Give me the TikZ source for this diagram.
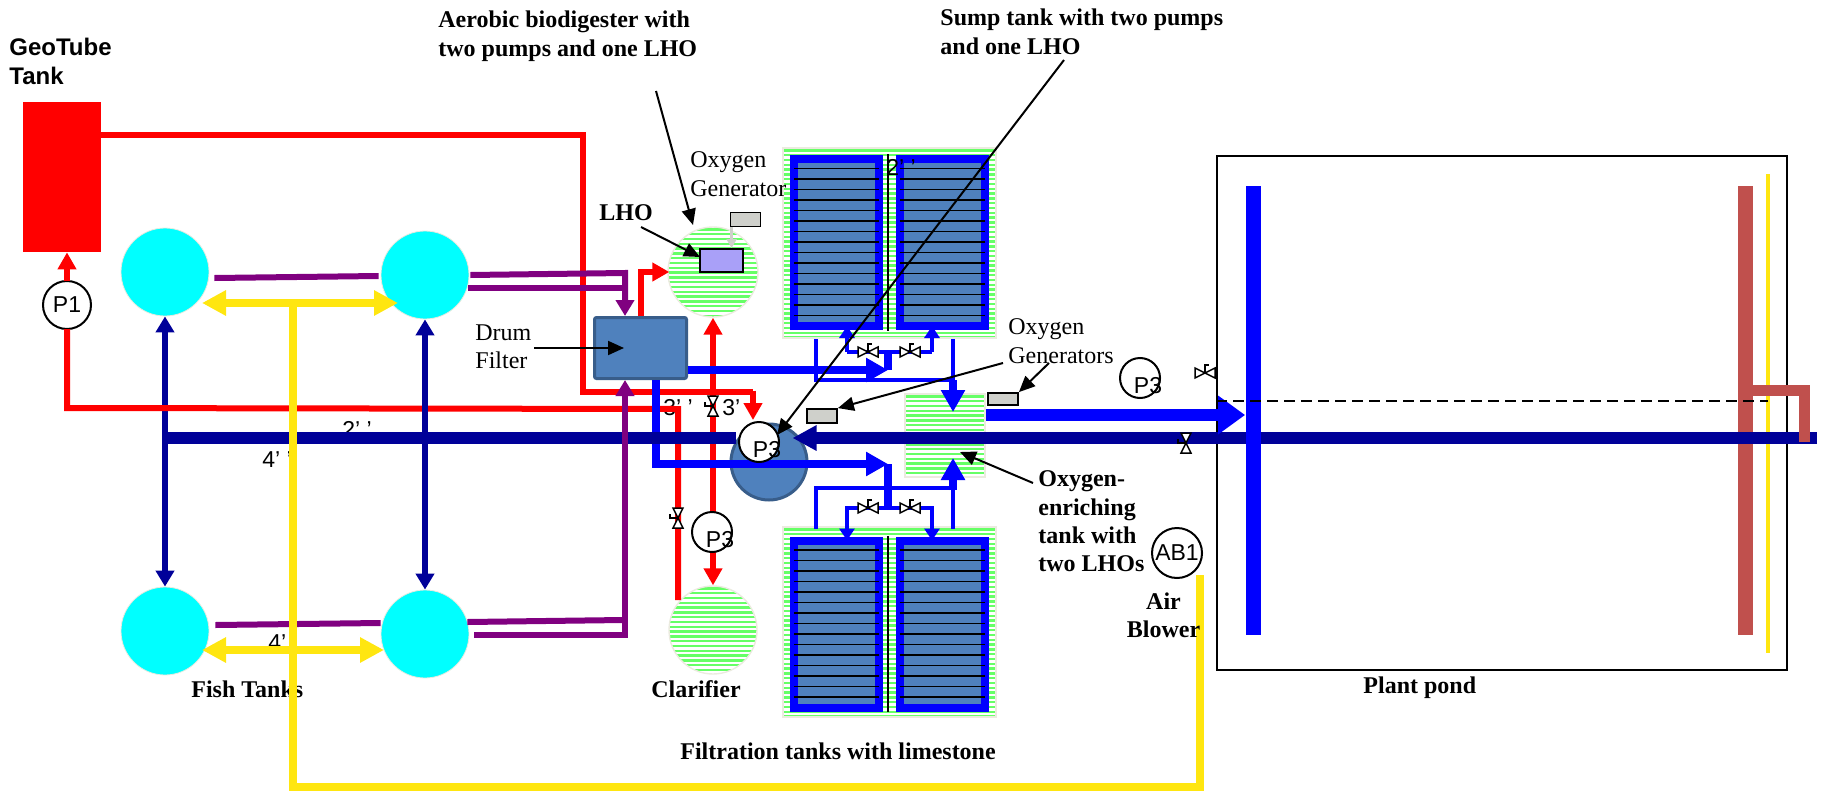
\documentclass[tikz,border=0pt]{standalone}
\usepackage{fontspec}
\setmainfont{Liberation Serif}
\newfontfamily\arialfont{Liberation Sans}
\definecolor{TankBlue}{RGB}{79, 129, 189}
\definecolor{TankEdge}{RGB}{56, 93, 138}
\definecolor{Stripe}{RGB}{102, 255, 102}
\definecolor{StripeEdge}{RGB}{235, 235, 223}
\definecolor{FishCyan}{RGB}{0, 255, 255}
\definecolor{Navy}{RGB}{0, 0, 153}
\definecolor{Pipe}{RGB}{128, 0, 128}
\definecolor{Sun}{RGB}{255, 230, 16}
\definecolor{Brown}{RGB}{192, 80, 77}
\definecolor{GenGray}{RGB}{207, 208, 203}
\definecolor{LhoBlue}{RGB}{169, 160, 248}
\usetikzlibrary{arrows.meta, positioning, calc}

\begin{document}
\begin{tikzpicture}[
        x=0.5pt, y=-0.5pt, on grid,
        serif/.style={inner sep=0pt, align=left, font=\fontsize{12}{14.2}\selectfont},
        serifb/.style={serif, font=\fontsize{12}{14.2}\selectfont\bfseries},
        sans/.style={inner sep=0pt, font=\fontsize{11.5}{14}\selectfont\arialfont},
        fishtank/.style={circle, draw=StripeEdge, fill=FishCyan, inner sep=0pt, minimum size=44pt},
        striped/.style={draw=StripeEdge, line width=0.7pt, inner sep=0pt,
            path picture={
                \foreach \yy in {1.2,3.6,...,110} {
                    \draw[Stripe, line width=1.2pt] ([yshift=-\yy pt]path picture bounding box.north west)
                        -- ([yshift=-\yy pt]path picture bounding box.north east);
                }
            }},
        filterbox/.style={rectangle, draw=blue, line width=4pt, fill=TankBlue, inner sep=0pt, outer sep=0pt,
            minimum width=42.5pt, minimum height=83.5pt},
        genbox/.style={rectangle, draw, line width=0.9pt, fill=GenGray, inner sep=0pt, minimum width=15pt, minimum height=7pt},
        pump/.style={circle, draw, line width=1pt, fill=white, inner sep=0pt, outer sep=0pt, minimum size=20pt},
        pumpoff/.style={pump, label={[sans, xshift=4pt, yshift=-3.8pt]center:#1}},
        redpipe/.style={draw=red, line width=3pt},
        redarrow/.style={redpipe, -{Triangle[length=8.5pt,width=9pt]}},
        purplepipe/.style={draw=Pipe, line width=3pt},
        purplearrow/.style={purplepipe, -{Triangle[length=8pt,width=9pt]}},
        navypipe/.style={draw=Navy, line width=5.75pt},
        navyarrow/.style={draw=Navy, line width=3pt, {Triangle[length=8pt,width=9pt]}-{Triangle[length=8pt,width=9pt]}},
        bluethin/.style={draw=blue, line width=2pt},
        bluetip/.style={bluethin, -{Triangle[length=6pt,width=7.5pt]}},
        bluethick/.style={draw=blue, line width=4pt},
        bluehead/.style={bluethick, -{Triangle[length=11pt,width=11.5pt]}},
        yellowpipe/.style={draw=Sun, line width=3.75pt},
        yellowarrow/.style={yellowpipe, {Triangle[length=12pt,width=12pt]}-{Triangle[length=12pt,width=12pt]}},
        brownpipe/.style={draw=Brown, line width=5.5pt},
        pointer/.style={draw, line width=1pt, -{Triangle[length=8pt,width=7pt]}},
        slat/.style={draw, line width=0.9pt},
        valve/.pic={
            \draw[line width=0.75pt, fill=white] (-10,-5) -- (10,5) -- (10,-5) -- (-10,5) -- cycle;
            \draw[line width=0.75pt] (0,0) -- (0,-8) -- (4,-8);
        }
    ]
        \useasboundingbox (0,0) rectangle (1823,792);

        % striped backgrounds
        \node[striped, minimum width=106.5pt, minimum height=95pt] (upstripe) at (889.5,243) {};
        \node[striped, minimum width=106.5pt, minimum height=95pt] (lowstripe) at (889.5,622) {};
        \node[striped, minimum width=40pt, minimum height=41.5pt] (o2tank) at (945,435.5) {};
        \node[striped, circle, minimum size=45pt] (aerobic) at (713,272) {};
        \node[striped, circle, minimum size=44pt, below=179pt of aerobic] (clarifier) {};

        % arrows that go under the filter tanks
        \coordinate (upleft) at (847,352);
        \coordinate (upright) at (932,352);
        \draw[bluetip] (upleft) -- (847,326);
        \draw[bluetip] (upright) -- (932,326);

        % filter tanks
        \node[filterbox] (ftankA) at (836.5,242.5) {};
        \node[filterbox, right=52.75pt of ftankA] (ftankB) {};
        \node[filterbox, below=190.75pt of ftankA] (ftankC) {};
        \node[filterbox, right=52.75pt of ftankC] (ftankD) {};
        \foreach \t in {ftankA, ftankB, ftankC, ftankD} {
            \foreach \i in {0,...,14} {
                \draw[slat] ($(\t.north west)+(0,{9.5+10.5*\i})$) -- ($(\t.north east)+(0,{9.5+10.5*\i})$);
            }
        }
        \coordinate (divA) at (888,154);
        \coordinate (divB) at (888,331);
        \coordinate (divC) at (888,536);
        \coordinate (divD) at (888,712);
        \node[sans, anchor=base west] (twoup) at (886,175) {2’ ’};
        \draw[line width=1pt] (divA) -- (divB);
        \draw[line width=1pt] (divC) -- (divD);

        % tanks
        \node[rectangle, fill=red, inner sep=0pt, minimum width=39pt, minimum height=75pt] (geotube) at (62,177) {};
        \node[fishtank] (fish1) at (165,272) {};
        \node[fishtank, right=130pt of fish1, yshift=-1.5pt] (fish2) {};
        \node[fishtank, below=179.5pt of fish1] (fish3) {};
        \node[fishtank, below=179.5pt of fish2] (fish4) {};
        \node[circle, draw=TankEdge, line width=1.5pt, fill=TankBlue, inner sep=0pt, minimum size=38pt] (sump) at (769,462) {};
        \node[rectangle, draw, line width=1pt, fill=LhoBlue, inner sep=0pt, minimum width=21.5pt, minimum height=11.5pt] (lho) at (721.5,260.5) {};
        \node[genbox] (gen1) at (745.5,219.5) {};
        \node[genbox] (gen2) at (822,416) {};
        \node[genbox, minimum height=6pt] (gen3) at (1003,399) {};
        \node[rectangle, draw, line width=1pt, inner sep=0pt, minimum width=285pt, minimum height=257pt] (pond) at (1502,413) {};
        \node[rectangle, fill=Brown, inner sep=0pt, minimum width=7.5pt, minimum height=224.5pt] (brownbar) at (1745,410.5) {};
        \node[rectangle, fill=Sun, inner sep=0pt, minimum width=1.75pt, minimum height=239.5pt] (sunbar) at (1768,413.5) {};

        % labels
        \node[sans, anchor=base west] (twoleft) at (342,437) {2’ ’};
        \node[sans, anchor=base west] (fourup) at (262,467) {4’ ’};
        \node[sans, anchor=base west] (fourlow) at (268,650) {4’ ’};
        \node[sans, anchor=base west] (threea) at (663,415) {3’ ’};
        \node[sans, anchor=base west] (threeb) at (722,415) {3’};
        \node[serifb, anchor=base west] (fishlabel) at (191,697) {Fish Tanks};

        % red pipes
        \coordinate (navyfish) at (165,438);
        \draw[navyarrow] (fish1.south) -- (fish3.north);
        \node[pump, sans, draw, line width=1pt, minimum size=24pt] (p1) at (67,305) {P1};
        \coordinate (geoout) at (geotube.east |- 0,135);
        \coordinate (sumpin) at (753,420);
        \draw[redpipe] (geoout) -- (583,135) -- (583,392) -- (753,392);
        \draw[redarrow] (753,390.5) -- (sumpin);
        \coordinate (clarin) at (678,600);
        \draw[redpipe] (clarin) -- (678,409) -- (p1.south |- 0,408) -- (p1.south);
        \draw[redpipe, {Triangle[length=8.5pt,width=9pt]}-{Triangle[length=8.5pt,width=9pt]}] (aerobic.south) -- (clarifier.north);
        \node[rectangle, draw=TankEdge, line width=1.5pt, rounded corners=1pt, fill=TankBlue, inner sep=0pt, minimum width=46pt, minimum height=30.5pt] (drum) at (640.5,348) {};
        \draw[redarrow] (drum.north) |- ($(aerobic.west)+(2,0)$);
        \draw[navyarrow] (fish2.south) -- (fish4.north);

        % blue pipes
        \coordinate (botjoin) at (888,464);
        \coordinate (botT) at (888,508);
        \coordinate (topjoin) at (888,370);
        \draw[bluethick] (topjoin) -- (upleft -| topjoin);
        \draw[bluethin] (upleft) -- (upright);
        \draw[bluehead] (drum.east |- topjoin) -- (topjoin);
        \coordinate (retupA) at (816,339);
        \coordinate (retupB) at (953,339);
        \coordinate (o2top) at (953,412);
        \draw[bluethin] (retupA) -- (816,380) -- (953,380);
        \draw[bluethin] (retupB) -- (953,389);
        \draw[bluehead] (953,380) -- (o2top);
        \draw[bluethick] (botjoin) -- (botT);
        \draw[bluehead] (656,380) -- (656,464) -- (botjoin);
        \draw[bluetip] (botT) -- (847,508) -- (847,0 |- ftankC.north);
        \draw[bluetip] (botT) -- (932,508) -- (932,0 |- ftankD.north);
        \coordinate (retlowA) at (816,529);
        \coordinate (retlowB) at (953,529);
        \coordinate (o2bot) at (953,458);
        \draw[bluethin] (retlowA) -- (816,488) -- (953,488);
        \draw[bluethin] (retlowB) -- (953,488);
        \draw[bluehead] (953,490) -- (o2bot);

        % main lines
        \coordinate (navyend) at (1817,438);
        \draw[navypipe] (navyfish) -- (736,438);
        \draw[navypipe, -{Triangle[length=12pt,width=12pt]}] (navyend) -- ($(sump.east)+(-16,-24)$);
        \node[rectangle, fill=blue, inner sep=0pt, minimum width=7.5pt, minimum height=224.5pt] (bluebar) at (1253,410.5) {};
        \coordinate (pondin) at (bluebar.west |- 0,415);
        \draw[draw=blue, line width=6pt, -{Triangle[length=13.5pt,width=18.5pt]}] (o2tank.east |- 0,415) -- (pondin);
        \draw[brownpipe] (brownbar.east |- 0,390) -- (1804.5,390) -- (1804.5,442);
        \draw[line width=1pt, dash pattern=on 5.5pt off 3pt] (pond.west |- 0,401) -- (sunbar.center |- 0,401);

        % purple pipes
        \draw[purplepipe] ($(fish1.east)+(5,6)$) -- ($(fish2.west)+(-2,1)$);
        \draw[purplearrow] ($(fish2.east)+(1,0)$) -- (625,273) -- ($(drum.north)+(-15.5,0)$);
        \draw[purplepipe] (468,288) -- (625,288);
        \draw[purplepipe] ($(fish3.east)+(6,-6)$) -- ($(fish4.west)+(0,-11)$);
        \draw[purplepipe] ($(fish4.east)+(-2,-12)$) -- (623,620);
        \draw[purplearrow] (474,635) -- (625,635) -- ($(drum.south)+(-15.5,0)$);

        % yellow pipes
        \coordinate (yellowtop) at (293,303);
        \coordinate (airin) at (1200,575);
        \draw[yellowpipe] (yellowtop) -- (293,787) -- (1200,787) -- (airin);
        \draw[yellowarrow] (202,303) -- (398,303);
        \draw[yellowarrow] (202,650) -- (384,650);

        % pumps and valves
        \draw[redarrow] (p1.north) -- (p1 |- geotube.south);
        \node[pumpoff=P3] (p3a) at (759,442) {};
        \node[pumpoff=P3] (p3b) at (712,532) {};
        \node[pumpoff=P3] (p3c) at (1140,378) {};
        \node[pump, sans, draw, line width=1pt, minimum size=25pt] (ab1) at (1177,553) {AB1};
        \pic (valvea) at (868,352) {valve};
        \pic (valveb) at (910,352) {valve};
        \pic (valvec) at (868,508) {valve};
        \pic (valved) at (910,508) {valve};
        \pic (valvee) at (1205,373) {valve};
        \pic[rotate=90] (valvef) at (678,518) {valve};
        \pic[rotate=90] (valveg) at (713,406) {valve};
        \pic[rotate=90] (valveh) at (1186,443) {valve};

        % text
        \node[serifb, anchor=north west] (aerobiclabel) at (438,10.6) {Aerobic biodigester with\\two pumps and one LHO};
        \node[serifb, anchor=north west] (sumplabel) at (940,8.6) {Sump tank with two pumps\\and one LHO};
        \node[serif, anchor=north west] (genlabel) at (690,151.4) {Oxygen\\Generator};
        \node[serifb, anchor=base west] (lholabel) at (599,220) {LHO};
        \node[serif, anchor=north west] (drumlabel) at (475,324) {Drum\\Filter};
        \node[serif, anchor=north west] (genslabel) at (1008,318.4) {Oxygen\\Generators};
        \node[serifb, anchor=north west] (o2label) at (1038,470.4) {Oxygen-\\enriching\\tank with\\two LHOs};
        \node[serifb, anchor=north, align=center] (blowerlabel) at (1163.5,592) {Air\\Blower};
        \node[serifb, anchor=base west] (clarlabel) at (651,697) {Clarifier};
        \node[serifb, anchor=base west] (pondlabel) at (1363,693) {Plant pond};
        \node[serifb, anchor=base west] (filterlabel) at (680,759) {Filtration tanks with limestone};
        \node[inner sep=0pt, anchor=north west, align=left, font=\fontsize{12}{14.2}\selectfont\arialfont\bfseries] (geolabel) at (9,38) {GeoTube\\Tank};

        % pointers
        \coordinate (ptraerobic) at (656,91);
        \coordinate (tiparobic) at (693,225);
        \coordinate (ptrsump) at (1064,60);
        \coordinate (tipsump) at (777,435);
        \coordinate (ptrdrum) at (534,348);
        \coordinate (tipdrum) at (624,348);
        \coordinate (ptrlho) at (641,227);
        \coordinate (tiplho) at (700,257);
        \coordinate (ptrgena) at (1003,363);
        \coordinate (ptrgenb) at (1049,363);
        \coordinate (ptro2) at (1033,483);
        \coordinate (tipo2) at (960,452);
        \draw[pointer] (ptraerobic) -- (tiparobic);
        \draw[pointer] (ptrsump) -- (tipsump);
        \draw[pointer] (ptrdrum) -- (tipdrum);
        \draw[pointer] (ptrlho) -- (tiplho);
        \draw[pointer] (ptrgena) -- (gen2.north east);
        \draw[pointer] (ptrgenb) -- (gen3.north east);
        \draw[pointer] (ptro2) -- (tipo2);
        \coordinate (gengrayout) at ($(gen1.south west)+(2,0)$);
        \draw[draw=GenGray, line width=1.5pt, -{Triangle[length=4.5pt,width=5pt]}] (gengrayout) -- (gengrayout |- lho.north);
    \end{tikzpicture}
\end{document}
